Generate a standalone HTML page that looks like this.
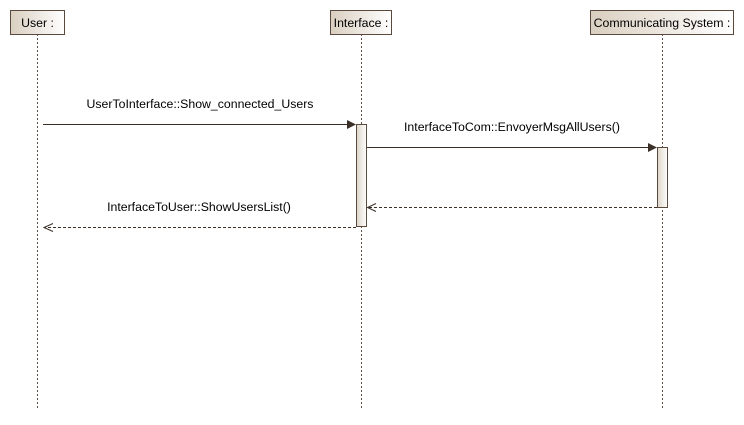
<!DOCTYPE html>
<html><head><meta charset="utf-8"><style>
body{margin:0;background:#fff;width:744px;height:420px;overflow:hidden}
</style></head><body>
<svg width="744" height="420" xmlns="http://www.w3.org/2000/svg" font-family="Liberation Sans, sans-serif" font-size="12.3">
<defs>
<linearGradient id="g" x1="0" x2="1" y1="0" y2="0"><stop offset="0" stop-color="#d9cfc0"/><stop offset="1" stop-color="#ffffff"/></linearGradient>
<linearGradient id="a" x1="0" x2="1"><stop offset="0" stop-color="#ddd5c8"/><stop offset="1" stop-color="#ffffff"/></linearGradient>
</defs>
<g stroke="#5a5048" stroke-width="1" stroke-dasharray="2,2">
<line x1="37.5" y1="34" x2="37.5" y2="410"/>
<line x1="361.5" y1="34" x2="361.5" y2="410"/>
<line x1="662.5" y1="34" x2="662.5" y2="410"/>
</g>
<g stroke="#5a4a3e" fill="url(#g)">
<rect x="10.5" y="10.5" width="54" height="24"/>
<rect x="330.5" y="10.5" width="61" height="24"/>
<rect x="590.5" y="10.5" width="143" height="24"/>
</g>
<g fill="#000" text-anchor="middle">
<text x="37.5" y="27">User :</text>
<text x="361" y="27">Interface :</text>
<text x="662" y="27">Communicating System :</text>
</g>
<g stroke="#5a4a3e" fill="url(#a)">
<rect x="356.5" y="124.5" width="10" height="102"/>
<rect x="657.5" y="147.5" width="10" height="60"/>
</g>
<g stroke="#3a3028" stroke-width="1">
<line x1="43" y1="124.5" x2="348" y2="124.5"/>
<line x1="367" y1="147.5" x2="649" y2="147.5"/>
</g>
<polygon points="347,120 356,124.5 347,129" fill="#3a3028"/>
<polygon points="648,143 657,147.5 648,152" fill="#3a3028"/>
<g stroke="#3a3028" stroke-dasharray="3,2">
<line x1="657" y1="207.5" x2="368" y2="207.5"/>
<line x1="356" y1="227.5" x2="44" y2="227.5"/>
</g>
<g stroke="#3a3028" fill="none">
<polyline points="376,203.5 367.5,207.5 376,211.5"/>
<polyline points="53,223.5 44,227.5 53,231.5"/>
</g>
<g fill="#000" text-anchor="middle">
<text x="200" y="108">UserToInterface::Show_connected_Users</text>
<text x="512" y="131">InterfaceToCom::EnvoyerMsgAllUsers()</text>
<text x="199" y="211">InterfaceToUser::ShowUsersList()</text>
</g>
</svg>
</body></html>
